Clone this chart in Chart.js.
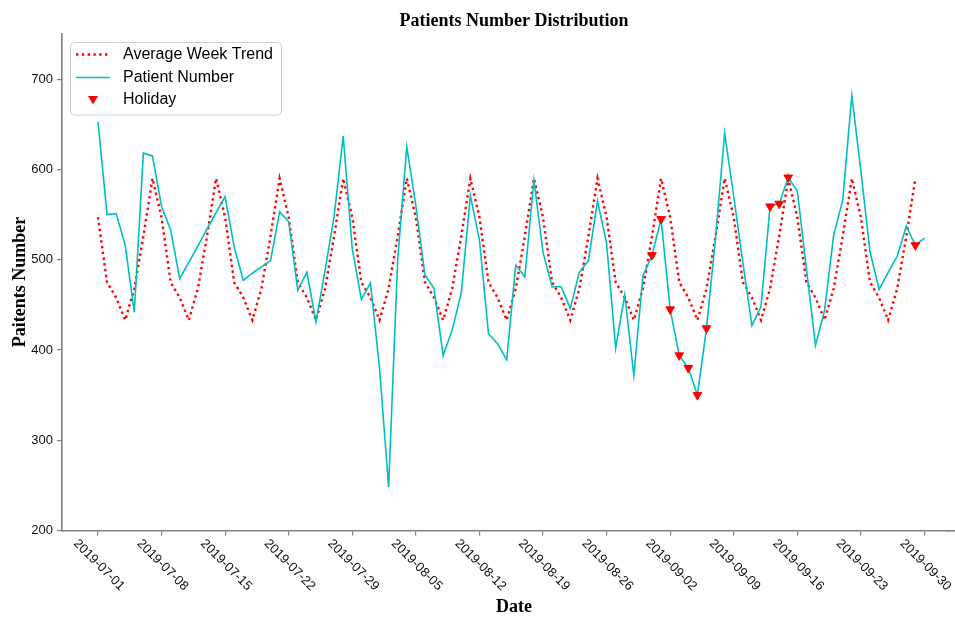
<!DOCTYPE html>
<html>
<head>
<meta charset="utf-8">
<script src="https://cdn.jsdelivr.net/npm/chart.js@4"></script>
<style>
  body { margin: 0; background: #fff; }
</style>
</head>
<body>
<canvas id="myChart" width="955" height="617"></canvas>
<script>
// first day of the series, every value below is one day after the previous
const startDate = '2019-07-01';

// patients per day, 2019-07-01 .. 2019-09-30
const patientValues = [
  653, 550, 551, 516, 442, 618, 615,
  559, 533, 479, 497, 515, 534, 552,
  570, 514, 477, 485, 492, 499, 553,
  542, 466, 486, 431, 488, 548, 637,
  512, 456, 474, 380, 248, 500, 625,
  560, 483, 468, 394, 422, 463, 571,
  522, 418, 407, 389, 494, 481, 588,
  508, 470, 470, 446, 486, 499, 565,
  518, 402, 461, 372, 482, 505, 545,
  445, 394, 380, 350, 424, 525, 640,
  570, 497, 427, 448, 559, 562, 591,
  576, 490, 405, 444, 527, 566, 682,
  598, 509, 467, 486, 504, 537, 516,
  524
];

// average per weekday, 2019-07-01 .. 2019-09-29
const trendValues = [
  547, 475, 458, 433, 468, 526, 590,
  547, 475, 458, 433, 468, 526, 590,
  547, 475, 458, 433, 468, 526, 590,
  547, 475, 458, 433, 468, 526, 590,
  547, 475, 458, 433, 468, 526, 590,
  547, 475, 458, 433, 468, 526, 590,
  547, 475, 458, 433, 468, 526, 590,
  547, 475, 458, 433, 468, 526, 590,
  547, 475, 458, 433, 468, 526, 590,
  547, 475, 458, 433, 468, 526, 590,
  547, 475, 458, 433, 468, 526, 590,
  547, 475, 458, 433, 468, 526, 590,
  547, 475, 458, 433, 468, 526, 590
];

const holidayDates = [
  '2019-08-31', '2019-09-01', '2019-09-02', '2019-09-03', '2019-09-04',
  '2019-09-05', '2019-09-06', '2019-09-13', '2019-09-14', '2019-09-15',
  '2019-09-29'
];

const xTickLabels = [
  '2019-07-01', '2019-07-08', '2019-07-15', '2019-07-22', '2019-07-29',
  '2019-08-05', '2019-08-12', '2019-08-19', '2019-08-26', '2019-09-02',
  '2019-09-09', '2019-09-16', '2019-09-23', '2019-09-30'
];
const yTicks = [200, 300, 400, 500, 600, 700];

function dayIndex(s) {
  return Math.round((Date.parse(s) - Date.parse(startDate)) / 86400000);
}

const grey = '#808080';
const spineWidth = 1.6;
const tickFont = '13px "Liberation Sans"';
const serifBold = 'bold 18px "Liberation Serif"';

// titles, rotated date labels and the boxed legend
const decorations = {
  id: 'decorations',
  afterDraw(chart) {
    const ctx = chart.ctx;
    const xs = chart.scales.x;
    const area = chart.chartArea;
    ctx.save();

    // bottom spine runs on to the picture edge (same pixel alignment as Chart.js)
    const sy = Math.round(xs.top - spineWidth / 2) + spineWidth / 2;
    ctx.beginPath();
    ctx.strokeStyle = grey;
    ctx.lineWidth = spineWidth;
    ctx.moveTo(area.right - 2, sy);
    ctx.lineTo(chart.width, sy);
    ctx.stroke();

    ctx.fillStyle = '#000';
    ctx.textAlign = 'center';
    ctx.textBaseline = 'middle';

    ctx.font = serifBold;
    ctx.fillText('Patients Number Distribution', 514, 21);
    ctx.fillText('Date', 514, 607);
    ctx.save();
    ctx.translate(20, 282);
    ctx.rotate(-Math.PI / 2);
    ctx.fillText('Paitents Number', 0, 0);
    ctx.restore();

    ctx.font = tickFont;
    ctx.fillStyle = '#111';
    xTickLabels.forEach(function (lab) {
      const px = xs.getPixelForValue(dayIndex(lab));
      ctx.save();
      ctx.translate(px + 1, 565);
      ctx.rotate(Math.PI / 4);
      ctx.fillText(lab, 0, 0);
      ctx.restore();
    });

    // legend
    const bx = 70.5, by = 42.5, bw = 211, bh = 72.5, r = 4;
    ctx.beginPath();
    ctx.moveTo(bx + r, by);
    ctx.arcTo(bx + bw, by, bx + bw, by + bh, r);
    ctx.arcTo(bx + bw, by + bh, bx, by + bh, r);
    ctx.arcTo(bx, by + bh, bx, by, r);
    ctx.arcTo(bx, by, bx + bw, by, r);
    ctx.closePath();
    ctx.fillStyle = 'rgba(255,255,255,0.8)';
    ctx.fill();
    ctx.strokeStyle = '#d0d0d0';
    ctx.lineWidth = 1;
    ctx.stroke();

    const ds = chart.data.datasets;
    const rows = [54.5, 77.5, 100];
    ctx.lineCap = 'butt';
    // dotted sample
    ctx.beginPath();
    ctx.setLineDash(ds[0].borderDash);
    ctx.strokeStyle = ds[0].borderColor;
    ctx.lineWidth = ds[0].borderWidth;
    ctx.moveTo(76, rows[0]);
    ctx.lineTo(110, rows[0]);
    ctx.stroke();
    ctx.setLineDash([]);
    // solid sample
    ctx.beginPath();
    ctx.strokeStyle = ds[1].borderColor;
    ctx.lineWidth = ds[1].borderWidth;
    ctx.moveTo(76, rows[1]);
    ctx.lineTo(110, rows[1]);
    ctx.stroke();
    // triangle sample
    ctx.beginPath();
    ctx.fillStyle = ds[2].backgroundColor;
    ctx.moveTo(88, rows[2] - 4);
    ctx.lineTo(98, rows[2] - 4);
    ctx.lineTo(93, rows[2] + 4.5);
    ctx.closePath();
    ctx.fill();

    ctx.font = '16px "Liberation Sans"';
    ctx.fillStyle = '#000';
    ctx.textAlign = 'left';
    ds.forEach(function (d, i) {
      ctx.fillText(d.label, 123, rows[i]);
    });
    ctx.restore();
  }
};

document.addEventListener('DOMContentLoaded', function () {
  Chart.defaults.font.family = '"Liberation Sans"';

  const patientPoints = patientValues.map(function (v, i) { return { x: i, y: v }; });
  const trendPoints = trendValues.map(function (v, i) { return { x: i, y: v }; });
  const holidayPoints = holidayDates.map(function (s) {
    const i = dayIndex(s);
    return { x: i, y: patientValues[i] };
  });

  const ctx = document.getElementById('myChart').getContext('2d');
  const myChart = new Chart(ctx, {
    type: 'line',
    data: {
      datasets: [{
        label: 'Average Week Trend',
        data: trendPoints,
        borderColor: '#ff0000',
        borderWidth: 2.4,
        borderDash: [2.4, 3.4],
        pointRadius: 0,
        tension: 0,
        fill: false,
        order: 2
      }, {
        label: 'Patient Number',
        data: patientPoints,
        borderColor: '#00bfbf',
        borderWidth: 1.6,
        pointRadius: 0,
        tension: 0,
        fill: false,
        order: 1
      }, {
        label: 'Holiday',
        data: holidayPoints,
        showLine: false,
        pointStyle: 'triangle',
        rotation: 180,
        pointRadius: 5,
        borderWidth: 1,
        backgroundColor: '#ff0000',
        borderColor: '#ff0000',
        order: 0
      }]
    },
    options: {
      responsive: false,
      animation: false,
      layout: { padding: { top: 34, right: 0, bottom: 0, left: 0 } },
      plugins: {
        legend: { display: false },
        tooltip: { enabled: false },
        title: { display: false }
      },
      scales: {
        x: {
          type: 'linear',
          min: -3.96,
          max: 93.7,
          afterBuildTicks: function (axis) {
            axis.ticks = xTickLabels.map(function (l) { return { value: dayIndex(l) }; });
          },
          afterFit: function (axis) { axis.height = 86.5; },
          ticks: { display: false },
          grid: { drawOnChartArea: false, drawTicks: true, tickLength: 5, color: grey, lineWidth: 1.2 },
          border: { color: grey, width: spineWidth }
        },
        y: {
          min: 200,
          max: 750,
          afterBuildTicks: function (axis) {
            axis.ticks = yTicks.map(function (v) { return { value: v }; });
          },
          afterFit: function (axis) { axis.width = 62; },
          ticks: { color: '#111', font: { size: 13 }, padding: 4 },
          grid: { drawOnChartArea: false, drawTicks: true, tickLength: 5, color: grey, lineWidth: 1.2 },
          border: { color: grey, width: spineWidth }
        }
      }
    },
    plugins: [decorations]
  });
});
</script>
</body>
</html>
